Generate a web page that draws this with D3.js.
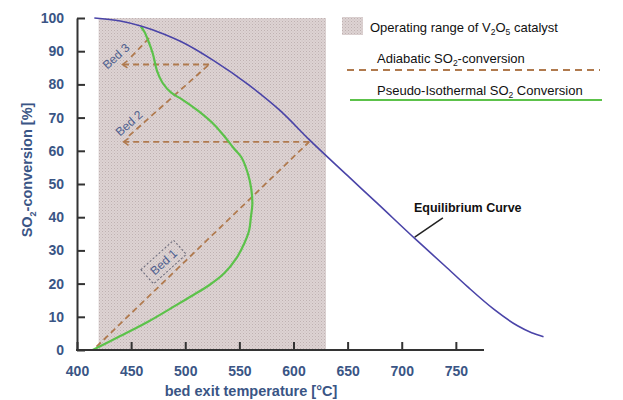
<!DOCTYPE html>
<html><head><meta charset="utf-8">
<script src="https://cdn.jsdelivr.net/npm/d3@7"></script>
<style>
body{margin:0;background:#fff;}
svg{display:block;font-family:"Liberation Sans",Arial,sans-serif;}
</style></head>
<body><svg id="c" width="623" height="400"></svg>
<script>
// ---- data ----
const xTicks = [400,450,500,550,600,650,700,750];
const yTicks = [0,10,20,30,40,50,60,70,80,90,100];
const operatingRange = [420, 630];
const equilibriumTemp = [416,440,459,480,496,527,558,588,615,650,678,713,740,761,785,807,820,831];
const equilibriumConv = [100,99.1,97.6,95.2,92.9,87,80,72,63.2,52.5,44,33.3,25.3,19,12.3,7.3,5.2,4];
const isoTemp = [414.5,440,466,487,505,522,536,547,554.5,559,560.7,562,561,558,552,545,537,527,512,497,487,479,474,470,466,462,459];
const isoConv = [0,4.2,8.6,12.6,16.1,19.5,23.1,27.5,32.1,36,40.2,44,48.5,53,58,60.7,64,67.8,72,75.5,77.5,80.5,84,89.3,93,96,97.4];
const bed1Temp = [418,614.5], bed1Conv = [1,62.7];
const quench1Temp = [614.5,443], quench1Conv = [62.7,62.7];
const bed2Temp = [448,522], bed2Conv = [64.5,86];
const quench2Temp = [522,442], quench2Conv = [86,86];
const bed3Temp = [450,468.5], bed3Conv = [88.3,94.6];
const bedLabels = ["Bed 1","Bed 2","Bed 3"];
const bedLabelTemp = [480,448,436];
const bedLabelConv = [26.5,68.3,88.5];

const svg = d3.select("#c");
const x = d3.scaleLinear().domain([400,776]).range([77,484]);
const y = d3.scaleLinear().domain([0,100]).range([350,18]);
const axisCol = "#3a5585";

// pattern for operating range
const defs = svg.append("defs");
const pat = defs.append("pattern").attr("id","dots").attr("width",3).attr("height",3).attr("patternUnits","userSpaceOnUse");
pat.append("rect").attr("width",3).attr("height",3).attr("fill","#ddd3d3");
pat.append("rect").attr("x",0).attr("y",0).attr("width",1).attr("height",1).attr("fill","#bfb1b1");
pat.append("rect").attr("x",1.5).attr("y",1.5).attr("width",1).attr("height",1).attr("fill","#c9bdbd");
defs.append("marker").attr("id","arr").attr("markerUnits","userSpaceOnUse")
  .attr("viewBox","-8 -6 10 12").attr("refX",0).attr("refY",0)
  .attr("markerWidth",10).attr("markerHeight",12).attr("orient","auto")
  .append("path").attr("d","M-5,-3.5L0,0L-5,3.5").attr("fill","none").attr("stroke","#b07a4e").attr("stroke-width",1.5);

svg.append("rect").attr("x",x(operatingRange[0])).attr("y",y(100))
  .attr("width",x(operatingRange[1])-x(operatingRange[0])).attr("height",y(0)-y(100))
  .attr("fill","url(#dots)");

// lines
const line = (xs,ys,curve) => d3.line().x(i=>x(xs[i])).y(i=>y(ys[i])).curve(curve||d3.curveLinear)(d3.range(xs.length));
const dashCol = "#b07a4e";
[[bed1Temp,bed1Conv,false],[quench1Temp,quench1Conv,true],[bed2Temp,bed2Conv,false],[quench2Temp,quench2Conv,true],[bed3Temp,bed3Conv,false]]
 .forEach(([xs,ys,arrow])=>{
  const p = svg.append("path").attr("d",line(xs,ys)).attr("fill","none")
    .attr("stroke",dashCol).attr("stroke-width",1.8).attr("stroke-dasharray","6,4");
  if(arrow) p.attr("marker-end","url(#arr)");
 });

svg.append("path").attr("d",line(isoTemp,isoConv,d3.curveCatmullRom)).attr("fill","none")
  .attr("stroke","#5cc24a").attr("stroke-width",2.2);
svg.append("path").attr("d",line(equilibriumTemp,equilibriumConv,d3.curveMonotoneX)).attr("fill","none")
  .attr("stroke","#4a44a8").attr("stroke-width",1.6);

// bed labels
bedLabels.forEach((t,i)=>{
  const g = svg.append("g").attr("transform",`translate(${x(bedLabelTemp[i])},${y(bedLabelConv[i])}) rotate(-42)`);
  g.append("text").attr("text-anchor","middle").attr("dy","0.35em")
    .attr("font-size",12).attr("fill","#4f5f8f").text(t);
  if(i===0){
    g.append("rect").attr("x",-22).attr("y",-9.5).attr("width",44).attr("height",19)
      .attr("fill","none").attr("stroke","#6a6a7a").attr("stroke-width",1).attr("stroke-dasharray","2,2");
  }
});

// axes
const xa = svg.append("g").attr("transform",`translate(0,${y(0)})`)
  .call(d3.axisBottom(x).tickValues(xTicks).tickSizeInner(-8).tickSizeOuter(0).tickPadding(16));
const ya = svg.append("g").attr("transform",`translate(${x(400)},0)`)
  .call(d3.axisLeft(y).tickValues(yTicks).tickSizeInner(-8).tickSizeOuter(0).tickPadding(13));
[xa,ya].forEach(a=>{
  a.select(".domain").attr("stroke","#333").attr("stroke-width",2);
  a.selectAll(".tick line").attr("stroke","#333").attr("stroke-width",2);
  a.selectAll(".tick text").attr("fill",axisCol).attr("font-size",14).attr("font-weight","bold")
    .attr("font-family","Liberation Sans, Arial, sans-serif");
});
xa.select(".domain").attr("d",`M${x(400)-1},0H${x(776)}`);

// axis titles
svg.append("text").attr("x",251).attr("y",396).attr("text-anchor","middle")
  .attr("font-size",14.5).attr("font-weight","bold").attr("fill",axisCol).text("bed exit temperature [°C]");
const yt = svg.append("text").attr("transform","translate(32,170) rotate(-90)").attr("text-anchor","middle")
  .attr("font-size",14.5).attr("font-weight","bold").attr("fill",axisCol);
yt.append("tspan").text("SO");
yt.append("tspan").attr("font-size",9).attr("dy",4).text("2");
yt.append("tspan").attr("dy",-4).text("-conversion [%]");

// equilibrium annotation
svg.append("text").attr("x",x(761)).attr("y",y(41.5)).attr("text-anchor","middle")
  .attr("font-size",12.5).attr("font-weight","bold").attr("fill","#111").text("Equilibrium Curve");
svg.append("line").attr("x1",x(738)).attr("y1",y(39.8)).attr("x2",x(712)).attr("y2",y(34))
  .attr("stroke","#222").attr("stroke-width",1.5);

// legend
const lg = svg.append("g");
lg.append("rect").attr("x",342).attr("y",17).attr("width",21).attr("height",18).attr("fill","url(#dots)");
const t1 = lg.append("text").attr("x",370).attr("y",32).attr("font-size",13).attr("fill","#111");
t1.append("tspan").text("Operating range of  V");
t1.append("tspan").attr("font-size",8.5).attr("dy",3).text("2");
t1.append("tspan").attr("dy",-3).text("O");
t1.append("tspan").attr("font-size",8.5).attr("dy",3).text("5");
t1.append("tspan").attr("dy",-3).text(" catalyst");
const t2 = lg.append("text").attr("x",377).attr("y",63).attr("font-size",13).attr("fill","#111");
t2.append("tspan").text("Adiabatic SO");
t2.append("tspan").attr("font-size",8.5).attr("dy",3).text("2");
t2.append("tspan").attr("dy",-3).text("-conversion");
lg.append("line").attr("x1",347).attr("x2",600).attr("y1",70).attr("y2",70)
  .attr("stroke",dashCol).attr("stroke-width",1.8).attr("stroke-dasharray","7,5");
const t3 = lg.append("text").attr("x",377).attr("y",95).attr("font-size",13).attr("fill","#111");
t3.append("tspan").text("Pseudo-Isothermal SO");
t3.append("tspan").attr("font-size",8.5).attr("dy",3).text("2");
t3.append("tspan").attr("dy",-3).text(" Conversion");
lg.append("line").attr("x1",350).attr("x2",602).attr("y1",100).attr("y2",100)
  .attr("stroke","#5cc24a").attr("stroke-width",2);
</script></body></html>
